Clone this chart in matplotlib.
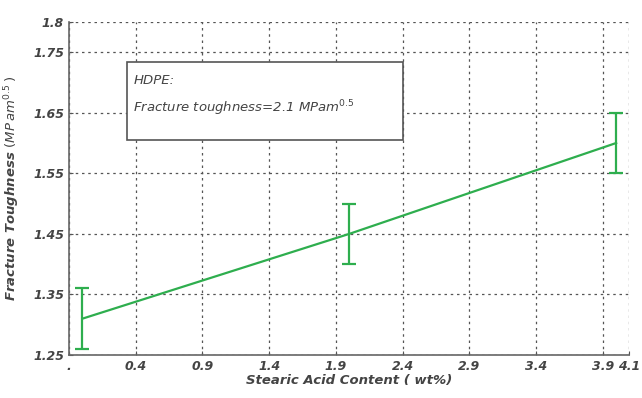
import numpy as np
import matplotlib.pyplot as plt
from matplotlib.patches import Rectangle

# Stearic acid content (wt%) vs fracture toughness
stearic = np.array([0.0, 2.0, 4.0])
toughness = np.array([1.31, 1.45, 1.60])
err = np.array([0.05, 0.05, 0.05])

xticks = [-0.1, 0.4, 0.9, 1.4, 1.9, 2.4, 2.9, 3.4, 3.9, 4.1]
xlabels = ['.', '0.4', '0.9', '1.4', '1.9', '2.4', '2.9', '3.4', '3.9', '4.1']
yticks = [1.25, 1.35, 1.45, 1.55, 1.65, 1.75, 1.8]
ylabels = ['1.25', '1.35', '1.45', '1.55', '1.65', '1.75', '1.8']

txt = '#444444'
fig = plt.figure(figsize=(6.42, 3.98), dpi=100)
ax = fig.add_axes([0.1075, 0.108, 0.873, 0.837])

ax.errorbar(stearic, toughness, yerr=err, color='#2eae4e', lw=1.6,
            capsize=5, capthick=1.6, elinewidth=1.6)

ax.set_xlim(-0.1, 4.1)
ax.set_ylim(1.25, 1.8)
ax.set_xticks(xticks)
ax.set_xticklabels(xlabels)
ax.set_yticks(yticks)
ax.set_yticklabels(ylabels)
ax.tick_params(direction='in', length=3, colors='#555555', labelcolor=txt)
for lab in ax.get_xticklabels() + ax.get_yticklabels():
    lab.set_fontstyle('italic')
    lab.set_fontweight('bold')
    lab.set_fontsize(9)
ax.grid(True, linestyle=(0, (2, 3)), color='#555555', lw=0.9)
for side in ['top', 'right']:
    ax.spines[side].set_visible(False)
for side in ['left', 'bottom']:
    ax.spines[side].set_color('#666666')
    ax.spines[side].set_linewidth(1.2)

ax.set_xlabel('Stearic Acid Content ( wt%)', fontstyle='italic',
              fontweight='bold', color=txt, fontsize=9.5, labelpad=1)
ax.set_ylabel(r'Fracture Toughness $(MP\,am^{0.5}\,)$', fontstyle='italic',
              fontweight='bold', color=txt, fontsize=9.5, labelpad=8)

# annotation box
box = Rectangle((0.103, 0.646), 0.493, 0.234, transform=ax.transAxes,
                facecolor='white', edgecolor='#555555', lw=1.2, zorder=3)
ax.add_patch(box)
ax.text(0.115, 0.845, 'HDPE:', transform=ax.transAxes, fontstyle='italic',
        color=txt, fontsize=9.5, va='top', zorder=4)
ax.text(0.115, 0.77, r'Fracture toughness=2.1 MPam$^{0.5}$',
        transform=ax.transAxes, fontstyle='italic', color=txt, fontsize=9.5,
        va='top', zorder=4)

plt.savefig('out.png', dpi=100)
